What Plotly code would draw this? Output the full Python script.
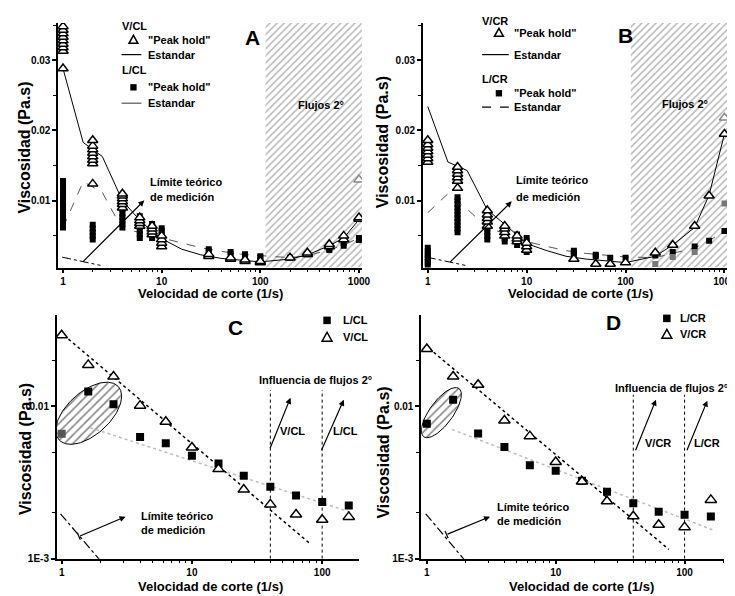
import numpy as np
import plotly.graph_objects as go

W, H = 735, 596
FONT = "Liberation Sans, Arial, sans-serif"

# ------------------------------------------------------------------ data
# Panels A / B : repeated "Peak hold" measurements per shear rate (1/s)
PH_RATES = [1, 2, 4, 6, 8, 10, 30, 50, 70, 100, 200, 300, 500, 700, 1000]

A_V_PEAK = [
    [0.0288, 0.0313, 0.0318, 0.0323, 0.0328, 0.0333, 0.0338, 0.0343, 0.0348],
    [0.0124, 0.0153, 0.0158, 0.0163, 0.0168, 0.0173, 0.0178, 0.0186],
    [0.0090, 0.0095, 0.0099, 0.0103, 0.0107, 0.0110],
    [0.0064, 0.0068, 0.0072, 0.0076],
    [0.0052, 0.0056, 0.0060, 0.0064],
    [0.0035, 0.0040, 0.0045, 0.0050],
    [0.0021, 0.0024],
    [0.0017, 0.0019],
    [0.0014, 0.0016],
    [0.0012, 0.0014],
    [0.0019],
    [0.0024, 0.0026],
    [0.0035, 0.0038],
    [0.0045, 0.0050],
    [0.0074, 0.0076],
]
A_V_PEAK_GRAY_X = [1000]
A_V_PEAK_GRAY_Y = [0.0130]

A_L_PEAK = [
    [0.0062, 0.0068, 0.0074, 0.0080, 0.0086, 0.0092, 0.0098, 0.0104, 0.0110, 0.0116, 0.0122, 0.0128],
    [0.0045, 0.0050, 0.0055, 0.0060, 0.0066],
    [0.0062, 0.0067, 0.0072, 0.0077, 0.0082, 0.0088],
    [0.0047, 0.0052, 0.0057, 0.0062, 0.0067, 0.0072, 0.0078],
    [0.0047, 0.0052, 0.0057, 0.0062, 0.0067],
    [0.0047, 0.0052, 0.0057, 0.0061],
    [0.0028, 0.0031],
    [0.0024, 0.0027],
    [0.0022, 0.0024],
    [0.0019, 0.0021],
    [0.0019],
    [0.0024],
    [0.0030, 0.0032],
    [0.0036, 0.0040],
    [0.0044, 0.0047],
]

B_V_PEAK = [
    [0.0155, 0.0160, 0.0165, 0.0170, 0.0175, 0.0180, 0.0186],
    [0.0118, 0.0128, 0.0133, 0.0138, 0.0143, 0.0148],
    [0.0064, 0.0070, 0.0075, 0.0080, 0.0086],
    [0.0050, 0.0055, 0.0060, 0.0064],
    [0.0042, 0.0046, 0.0050],
    [0.0030, 0.0035, 0.0040],
    [0.0017],
    [0.0010],
    [0.0010],
    [0.0012],
    [0.0026],
    [0.0037],
    [0.0064],
    [0.0107],
    [0.0195],
]
B_V_PEAK_GRAY_X = [1000]
B_V_PEAK_GRAY_Y = [0.0218]

B_L_PEAK = [
    [0.0008, 0.0012, 0.0016, 0.0020, 0.0024, 0.0028, 0.0033],
    [0.0055, 0.0060, 0.0065, 0.0070, 0.0075, 0.0080, 0.0085, 0.0090, 0.0095, 0.0100, 0.0105],
    [0.0045, 0.0050, 0.0055, 0.0060, 0.0065, 0.0070, 0.0076],
    [0.0042, 0.0047, 0.0052, 0.0057, 0.0062],
    [0.0037, 0.0042, 0.0047, 0.0052],
    [0.0027, 0.0032, 0.0037, 0.0042, 0.0047],
    [0.0022, 0.0026, 0.0029],
    [0.0021, 0.0023],
    [0.0019],
    [0.0019],
    [0.0022],
    [0.0027],
    [0.0035],
    [0.0043],
    [0.0057],
]
B_L_PEAK_GRAY_X = [200, 300, 500, 1000]
B_L_PEAK_GRAY_Y = [0.0010, 0.0020, 0.0027, 0.0096]

# Standard measurement curves (panels A / B)
STD_RATES = [1, 1.6, 2.5, 4, 6.3, 10, 16, 25, 40, 63, 100, 200, 300, 500, 700, 1000]
A_V_STD = [0.0288, 0.0183, 0.0163, 0.0100, 0.0069, 0.0046, 0.0031, 0.0023, 0.0018, 0.0015,
           0.0013, 0.0017, 0.0023, 0.0036, 0.0047, 0.0073]
A_L_STD = [0.0062, 0.0127, 0.0112, 0.0059, 0.0055, 0.0047, 0.0040, 0.0033, 0.0028, 0.0024,
           0.0022, 0.0019, 0.0022, 0.0030, 0.0037, 0.0047]
B_V_STD = [0.0234, 0.0155, 0.0143, 0.0087, 0.0064, 0.0039, 0.0029, 0.0021, 0.0017, 0.0014,
           0.0012, 0.0021, 0.0037, 0.0062, 0.0108, 0.0195]
B_L_STD = [0.0083, 0.0110, 0.0088, 0.0062, 0.0052, 0.0042, 0.0035, 0.0029, 0.0025, 0.0022,
           0.0020, 0.0019, 0.0025, 0.0033, 0.0043, 0.0057]

# Theoretical measuring limit
LIMIT_X = [0.98, 2.4]
LIMIT_Y = [0.00197, 0.0008]

# Secondary flows start (A / B shaded zone)
FLOW2_START = 113

# Panels C / D : steady shear (log-log)
CD_RATES = [1, 1.6, 2.5, 4, 6.3, 10, 16, 25, 40, 63, 100, 160]
C_L = [0.0066, 0.0125, 0.0103, 0.00628, 0.00572, 0.00473, 0.00422, 0.0035, 0.00297, 0.0026, 0.00235, 0.00223]
C_V = [0.0293, 0.0187, 0.01567, 0.0101, 0.00791, 0.00536, 0.00387, 0.00284, 0.00227, 0.00195, 0.0018, 0.00188]
D_L = [0.00768, 0.01106, 0.00664, 0.0054, 0.0041, 0.00377, 0.00324, 0.00275, 0.00231, 0.00203, 0.00194, 0.00189]
D_V = [0.0238, 0.0157, 0.01385, 0.00807, 0.00637, 0.00431, 0.00321, 0.00238, 0.0019, 0.00167, 0.00161, 0.00243]

# power-law fit lines (end points)
C_V_FIT_X = [1.04, 79.3]
C_V_FIT_Y = [0.0293, 0.00127]
C_L_FIT_X = [1.66, 174]
C_L_FIT_Y = [0.00723, 0.00199]
D_V_FIT_X = [1.04, 75.5]
D_V_FIT_Y = [0.0240, 0.00115]
D_L_FIT_X = [1.57, 170]
D_L_FIT_Y = [0.00705, 0.00153]

# secondary-flow influence limits (C / D)
INFL_X = [40, 100]
C_INFL_TOP = 0.0128
D_INFL_TOP = 0.0119

# ------------------------------------------------------------------ layout geometry
A_XD, A_YD = [0.069, 0.4875], [0.5609, 0.9748]
B_XD, B_YD = [0.5714, 0.9909], [0.5609, 0.9748]
C_XD, C_YD = [0.0671, 0.483], [0.0683, 0.4799]
D_XD, D_YD = [0.5691, 0.9864], [0.0683, 0.4799]
AB_XR = [-0.05, 3.03]
AB_YR = [0.0005, 0.0353]
C_XR = [-0.038, 2.28]
D_XR = [-0.044, 2.307]
CD_YR = [-3, -1.403]


def flat(rates, groups):
    xs, ys = [], []
    for r, g in zip(rates, groups):
        for v in g:
            xs.append(r)
            ys.append(v)
    return xs, ys


def P(px, py):
    return px / W, 1 - py / H


fig = go.Figure()

TRI = dict(symbol="triangle-up", size=9, color="white", line=dict(color="black", width=1.5))
TRI_G = dict(symbol="triangle-up", size=9, color="white", line=dict(color="#888888", width=1.5))
SQ = dict(symbol="square", size=6, color="black", line=dict(width=0))
SQ_G = dict(symbol="square", size=6, color="#777777", line=dict(width=0))


def hatch_zone(xa, ya):
    x0 = FLOW2_START
    x1 = 10 ** AB_XR[1]
    fig.add_trace(go.Scatter(
        x=[x0, x0, x1, x1, x0], y=[AB_YR[0], AB_YR[1], AB_YR[1], AB_YR[0], AB_YR[0]],
        mode="lines", line=dict(width=0), fill="toself", fillcolor="white",
        fillpattern=dict(shape="/", fgcolor="#6f6f6f", bgcolor="white", size=5, solidity=0.3),
        xaxis=xa, yaxis=ya, hoverinfo="skip"))


def panel_ab(xa, ya, v_peak, l_peak, v_std, l_std, vgx, vgy, lgx=None, lgy=None):
    hatch_zone(xa, ya)
    fig.add_trace(go.Scatter(x=LIMIT_X, y=LIMIT_Y, mode="lines",
                             line=dict(color="black", width=1, dash="dashdot"), xaxis=xa, yaxis=ya))
    fig.add_trace(go.Scatter(x=STD_RATES, y=l_std, mode="lines",
                             line=dict(color="#555555", width=1, dash="dash"), xaxis=xa, yaxis=ya))
    fig.add_trace(go.Scatter(x=STD_RATES, y=v_std, mode="lines",
                             line=dict(color="black", width=1), xaxis=xa, yaxis=ya))
    lx, ly = flat(PH_RATES, l_peak)
    fig.add_trace(go.Scatter(x=lx, y=ly, mode="markers", marker=SQ, xaxis=xa, yaxis=ya))
    if lgx:
        fig.add_trace(go.Scatter(x=lgx, y=lgy, mode="markers", marker=SQ_G, xaxis=xa, yaxis=ya))
    vx, vy = flat(PH_RATES, v_peak)
    fig.add_trace(go.Scatter(x=vx, y=vy, mode="markers", marker=TRI, xaxis=xa, yaxis=ya))
    fig.add_trace(go.Scatter(x=vgx, y=vgy, mode="markers", marker=TRI_G, xaxis=xa, yaxis=ya))


panel_ab("x", "y", A_V_PEAK, A_L_PEAK, A_V_STD, A_L_STD, A_V_PEAK_GRAY_X, A_V_PEAK_GRAY_Y)
panel_ab("x2", "y2", B_V_PEAK, B_L_PEAK, B_V_STD, B_L_STD, B_V_PEAK_GRAY_X, B_V_PEAK_GRAY_Y,
         B_L_PEAK_GRAY_X, B_L_PEAK_GRAY_Y)


def ellipse(xa, ya, cx, cy, a, b, ang, xr, xd, yr, yd):
    xlen = (xd[1] - xd[0]) * W
    ylen = (yd[1] - yd[0]) * H
    t = np.linspace(0, 2 * np.pi, 120)
    th = np.radians(ang)
    dx = a * np.cos(t) * np.cos(th) - b * np.sin(t) * np.sin(th)
    dy = a * np.cos(t) * np.sin(th) + b * np.sin(t) * np.cos(th)
    lx = np.log10(cx) + dx * (xr[1] - xr[0]) / xlen
    ly = np.log10(cy) + dy * (yr[1] - yr[0]) / ylen
    fig.add_trace(go.Scatter(
        x=10 ** lx, y=10 ** ly, mode="lines", line=dict(color="black", width=1),
        fill="toself", fillcolor="white",
        fillpattern=dict(shape="/", fgcolor="black", bgcolor="white", size=6, solidity=0.25),
        xaxis=xa, yaxis=ya, hoverinfo="skip"))


TRI2 = dict(symbol="triangle-up", size=10, color="white", line=dict(color="black", width=1.5))


def panel_cd(xa, ya, lv, vv, vfx, vfy, lfx, lfy, infl_top, ell, xr, xd, lcolors):
    ellipse(xa, ya, *ell, xr, xd, CD_YR, C_YD)
    fig.add_trace(go.Scatter(x=LIMIT_X, y=LIMIT_Y, mode="lines",
                             line=dict(color="black", width=1.2, dash="dashdot"), xaxis=xa, yaxis=ya))
    for xv in INFL_X:
        fig.add_trace(go.Scatter(x=[xv, xv], y=[10 ** CD_YR[0], infl_top], mode="lines",
                                 line=dict(color="black", width=1, dash="dot"), xaxis=xa, yaxis=ya))
    fig.add_trace(go.Scatter(x=lfx, y=lfy, mode="lines",
                             line=dict(color="#bdbdbd", width=1.5, dash="dot"), xaxis=xa, yaxis=ya))
    fig.add_trace(go.Scatter(x=vfx, y=vfy, mode="lines",
                             line=dict(color="black", width=1.5, dash="dot"), xaxis=xa, yaxis=ya))
    fig.add_trace(go.Scatter(x=CD_RATES, y=lv, mode="markers",
                             marker=dict(symbol="square", size=8, color=lcolors), xaxis=xa, yaxis=ya))
    fig.add_trace(go.Scatter(x=CD_RATES, y=vv, mode="markers", marker=TRI2, xaxis=xa, yaxis=ya))


C_LCOL = ["#555555"] + ["black"] * 11
D_LCOL = ["black"] * 12
panel_cd("x3", "y3", C_L, C_V, C_V_FIT_X, C_V_FIT_Y, C_L_FIT_X, C_L_FIT_Y, C_INFL_TOP,
         (1.613, 0.009003, 40.3, 21.6, 41.8), C_XR, C_XD, C_LCOL)
panel_cd("x4", "y4", D_L, D_V, D_V_FIT_X, D_V_FIT_Y, D_L_FIT_X, D_L_FIT_Y, D_INFL_TOP,
         (1.296, 0.00909, 30.2, 11.8, 53.6), D_XR, D_XD, D_LCOL)

# ------------------------------------------------------------------ axes
TICKFONT = dict(family=FONT, size=10, color="black", weight="bold")
BASE = dict(showline=True, linecolor="black", linewidth=1.5, ticks="outside", ticklen=4,
            tickwidth=1.5, tickcolor="black", showgrid=False, zeroline=False, mirror=False,
            tickfont=TICKFONT)
LOG_MINOR = [m * d for d in (1, 10, 100) for m in range(2, 10)]
XLOG_MINOR = dict(ticks="outside", ticklen=3, tickwidth=1, tickcolor="black", tickvals=LOG_MINOR)


def xab(dom, anchor):
    return dict(BASE, type="log", domain=dom, range=AB_XR, anchor=anchor,
                tickvals=[1, 10, 100, 1000], ticktext=["1", "10", "100", "1000"], minor=XLOG_MINOR)


def yab(dom, anchor):
    return dict(BASE, domain=dom, range=AB_YR, anchor=anchor,
                tickvals=[0.01, 0.02, 0.03], ticktext=["0.01", "0.02", "0.03"],
                minor=dict(ticks="outside", ticklen=3, tickwidth=1, tickcolor="black",
                           tickvals=[0.005, 0.015, 0.025, 0.035]))


def xcd(dom, rng, anchor):
    return dict(BASE, type="log", domain=dom, range=rng, anchor=anchor,
                tickvals=[1, 10, 100], ticktext=["1", "10", "100"], minor=XLOG_MINOR)


def ycd(dom, anchor):
    return dict(BASE, type="log", domain=dom, range=CD_YR, anchor=anchor,
                tickvals=[0.001, 0.01], ticktext=["1E-3", "0.01"],
                minor=dict(ticks="outside", ticklen=3, tickwidth=1, tickcolor="black",
                           tickvals=[0.002, 0.005, 0.02]))


# ------------------------------------------------------------------ annotations
ann = []
shapes = []


def T(t, x, y, size=11, xa="left", ya="middle", angle=0):
    px, py = P(x, y)
    ann.append(dict(text=f"<b>{t}</b>", x=px, y=py, xref="paper", yref="paper", showarrow=False,
                    xanchor=xa, yanchor=ya, textangle=angle,
                    font=dict(family=FONT, size=size, color="black")))


def ARW(tail, head, w=1.2):
    hx, hy = P(*head)
    ann.append(dict(text="", x=hx, y=hy, xref="paper", yref="paper", showarrow=True,
                    ax=tail[0] - head[0], ay=tail[1] - head[1], axref="pixel", ayref="pixel",
                    arrowhead=2, arrowsize=1, arrowwidth=w, arrowcolor="black"))


def LINE(x0, y0, x1, y1, color="black", dash="solid", w=1.2):
    a, b = P(x0, y0)
    c, d = P(x1, y1)
    shapes.append(dict(type="line", xref="paper", yref="paper", x0=a, y0=b, x1=c, y1=d,
                       line=dict(color=color, width=w, dash=dash)))


def TRIANGLE(cx, cy, s=4.5):
    pts = [P(cx - s, cy + s * 0.8), P(cx + s, cy + s * 0.8), P(cx, cy - s)]
    path = "M {} {} L {} {} L {} {} Z".format(*[v for p in pts for v in p])
    shapes.append(dict(type="path", xref="paper", yref="paper", path=path,
                       line=dict(color="black", width=1.5), fillcolor="white"))


def SQUARE(cx, cy, s=3.2):
    a, b = P(cx - s, cy + s)
    c, d = P(cx + s, cy - s)
    shapes.append(dict(type="rect", xref="paper", yref="paper", x0=a, y0=b, x1=c, y1=d,
                       line=dict(width=0), fillcolor="black"))


# axis titles
for cx, cy in [(17, 141), (380, 135), (17, 445), (380, 448)]:
    T("Viscosidad (Pa.s)", cx, cy, size=16, xa="center", angle=-90)
for cx, cy in [(205, 288), (580, 288), (205, 583), (581, 583)]:
    T("Velocidad de corte (1/s)", cx, cy, size=13, xa="center")

# panel letters
T("A", 248, 30, size=21, xa="center")
T("B", 625, 28, size=21, xa="center")
T("C", 230, 322, size=21, xa="center")
T("D", 613, 317, size=21, xa="center")

# panel A legend
T("V/CL", 113, 18)
TRIANGLE(127, 32)
T('"Peak hold"', 140, 32)
LINE(115, 47, 135, 47)
T("Estandar", 140, 47)
T("L/CL", 113, 63)
SQUARE(127, 80)
T('"Peak hold"', 140, 80)
LINE(115, 96, 135, 96, color="#555555")
T("Estandar", 140, 96)

# panel B legend
T("V/CR", 478, 13)
TRIANGLE(497, 25)
T('"Peak hold"', 510, 25)
LINE(480, 47, 507, 47)
T("Estandar", 510, 47)
T("L/CR", 478, 72)
SQUARE(497, 86)
T('"Peak hold"', 510, 86)
LINE(480, 100, 507, 100, dash="dash")
T("Estandar", 510, 100)

# zones
T("Flujos 2°", 317, 98, xa="center")
T("Flujos 2°", 685, 97, xa="center")

# limit labels + arrows
T("Límite teórico", 142, 175)
T("de medición", 142, 191)
ARW((75, 257), (138, 194))
T("Límite teórico", 512, 173)
T("de medición", 512, 191)
ARW((447, 257), (510, 195))
T("Límite teórico", 133, 512)
T("de medición", 133, 526)
ARW((72, 533), (119, 513))
LINE(70.2, 529.2, 73.2, 536.2)
T("Límite teórico", 493, 503)
T("de medición", 493, 517)
ARW((444, 531), (488, 513))
LINE(442.5, 527.5, 445.5, 534.5)

# C/D secondary flow labels
T("Influencia de flujos 2°", 311, 375, xa="center")
T("Influencia de flujos 2°", 731, 383, xa="right")
ARW((265, 445), (286, 393))
ARW((317, 447), (340, 395))
T("V/CL", 288, 427, xa="center")
T("L/CL", 342, 427, xa="center")
ARW((635, 447), (656, 395))
ARW((687, 447), (708, 396))
T("V/CR", 658, 439, xa="center")
T("L/CR", 708, 439, xa="center")

# C/D legends
SQUARE(323, 315, 3.8)
T("L/CL", 337, 315)
TRIANGLE(323, 332, 5)
T("V/CL", 337, 332)
SQUARE(667, 313, 3.8)
T("L/CR", 678, 313)
TRIANGLE(667, 329, 5)
T("V/CR", 678, 329)

fig.update_layout(
    width=W, height=H, margin=dict(l=0, r=0, t=0, b=0),
    paper_bgcolor="white", plot_bgcolor="rgba(0,0,0,0)", showlegend=False,
    xaxis=xab(A_XD, "y"), yaxis=yab(A_YD, "x"),
    xaxis2=xab(B_XD, "y2"), yaxis2=yab(B_YD, "x2"),
    xaxis3=xcd(C_XD, C_XR, "y3"), yaxis3=ycd(C_YD, "x3"),
    xaxis4=xcd(D_XD, D_XR, "y4"), yaxis4=ycd(D_YD, "x4"),
    annotations=ann, shapes=shapes,
)

fig.write_html("out.html")
